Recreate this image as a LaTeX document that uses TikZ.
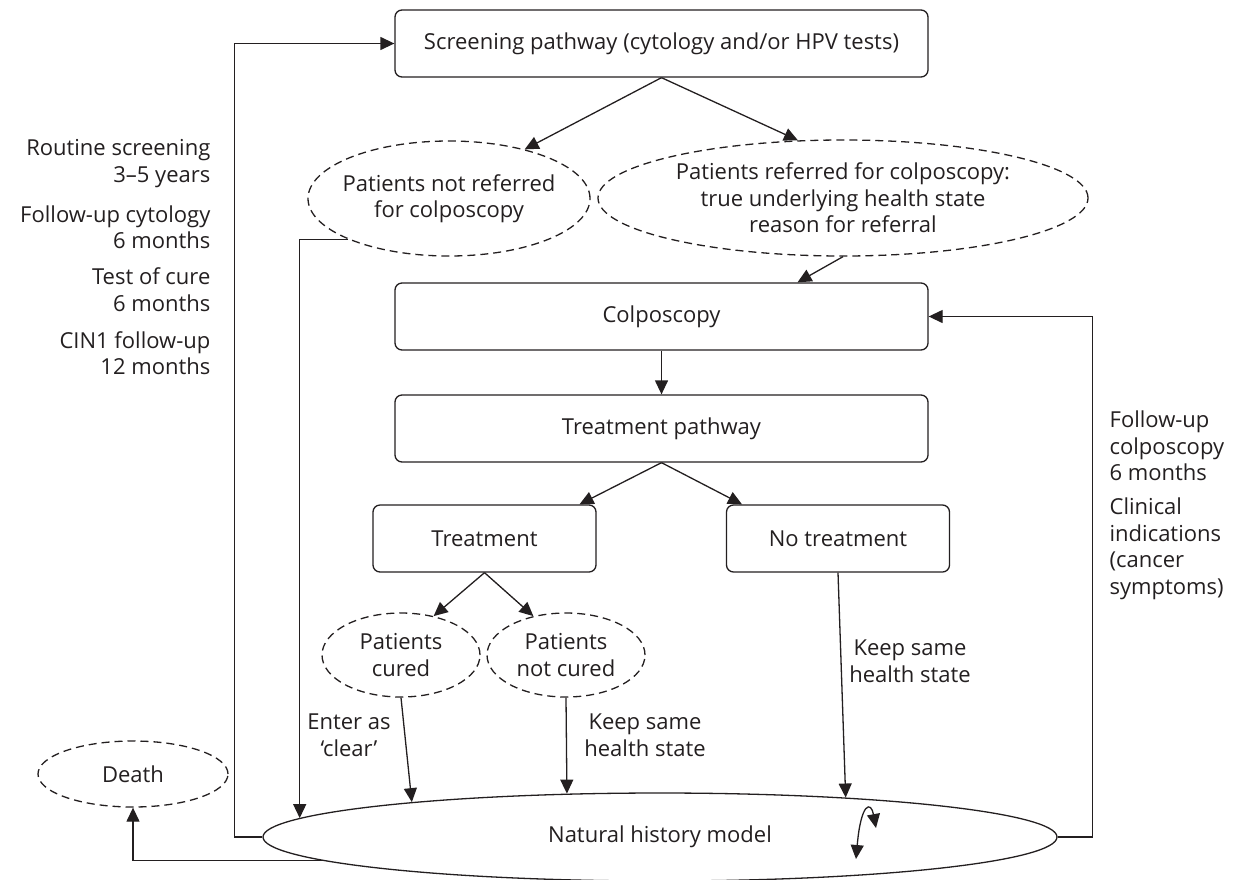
\documentclass[tikz,border=0pt]{standalone}
\usepackage{fontspec}
\setmainfont{Open Sans}
\usetikzlibrary{arrows.meta,shapes.geometric,calc}
\definecolor{ink}{RGB}{35,31,32}

\begin{document}
\begin{tikzpicture}[x=1pt,y=-1pt,font=\fontsize{22}{26.5}\selectfont,line width=1.3pt,color=ink]
\tikzset{box/.style = {shape=rectangle,draw,rounded corners=7pt,minimum width=533pt,minimum height=67pt}}
\tikzset{smallbox/.style = {box,minimum width=223pt}}
\tikzset{cloud/.style = {shape=ellipse,draw,dash pattern=on 8pt off 5pt,inner sep=-40pt,align=center}}
\tikzset{edge/.style = {->,> = {Triangle[length=14pt,width=13pt]}}}
\tikzset{lbl/.style = {inner sep=0pt}}

\useasboundingbox (0,0) rectangle (1236,879);

% boxes
\node[box] (screen) at (661.5,43.5) {Screening pathway (cytology and/or HPV tests)};
\node[box] (colp) at (661.5,316.5) {Colposcopy};
\node[box] (tpath) at (661.5,428.5) {Treatment pathway};
\node[smallbox] (treat) at (484.5,538.5) {Treatment};
\node[smallbox] (notreat) at (838,538.5) {No treatment};

% patient groups
\node[cloud,minimum width=282pt,minimum height=115pt] (notref) at (449,198.5) {Patients not referred\\for colposcopy};
\node[cloud,minimum width=490pt,minimum height=116pt] (ref) at (843,198) {Patients referred for colposcopy:\\true underlying health state\\reason for referral};
\node[cloud,minimum width=158pt,minimum height=84pt] (cured) at (401,655) {Patients\\cured};
\node[cloud,minimum width=158pt,minimum height=84pt] (notcured) at (566,655) {Patients\\not cured};
\node[cloud,minimum width=190pt,minimum height=66pt] (death) at (133,774) {Death};
\node[shape=ellipse,draw,inner sep=-40pt,minimum width=794pt,minimum height=88pt] (nh) at (660,837) {Natural history model};

% side labels
\node[lbl,anchor=east,align=right] (routine) at (211,163.5) {Routine screening\\3--5 years};
\node[lbl,anchor=east,align=right] (cytol) at (211,227) {Follow-up cytology\\6 months};
\node[lbl,anchor=east,align=right] (cure) at (211,289.5) {Test of cure\\6 months};
\node[lbl,anchor=east,align=right] (cinone) at (211,353) {CIN1 follow-up\\12 months};
\node[lbl,anchor=west,align=left] (fucolp) at (1109,446) {Follow-up\\colposcopy\\6 months};
\node[lbl,anchor=west,align=left] (clin) at (1109,549) {Clinical\\indications\\(cancer\\symptoms)};

% edge labels
\node[lbl,align=center] (clear) at (349,735) {Enter as\\`clear'};
\node[lbl,align=center] (keepa) at (645,735) {Keep same\\health state};
\node[lbl,align=center] (keepb) at (910,661) {Keep same\\health state};

% connectors
\draw[edge] (nh.west) -- ++(-28,0) |- (screen.west);
\draw[edge] (screen.south) -- (notref.33);
\draw[edge] (screen.south) -- (ref.128);
\draw[edge] (ref.south) -- ($(colp.north)+(136,0)$);
\draw[edge] (colp) -- (tpath);
\draw[edge] (tpath.south) -- ($(treat.north)+(95,0)$);
\draw[edge] (tpath.south) -- ($(notreat.north)+(-96,0)$);
\draw[edge] (treat.south) -- (cured.50);
\draw[edge] (treat.south) -- (notcured.130);
\draw[edge] (notref.202) -| (nh.177.69);
\draw[edge] (cured.south) -- (nh.172.67);
\draw[edge] (notcured.south) -- (nh.155.54);
\draw[edge] (notreat.south) -- (nh.12.46);
\draw[edge] (nh.east) -- ++(35,0) |- (colp.east);
\draw[edge] (nh.184.38) -| (death.south);

% stay in model
\coordinate (loopa) at (876,828);
\coordinate (loopb) at (856,859);
\draw[edge,<->] (loopa) .. controls (871,801) and (861,802) .. (loopb);
\end{tikzpicture}
\end{document}
